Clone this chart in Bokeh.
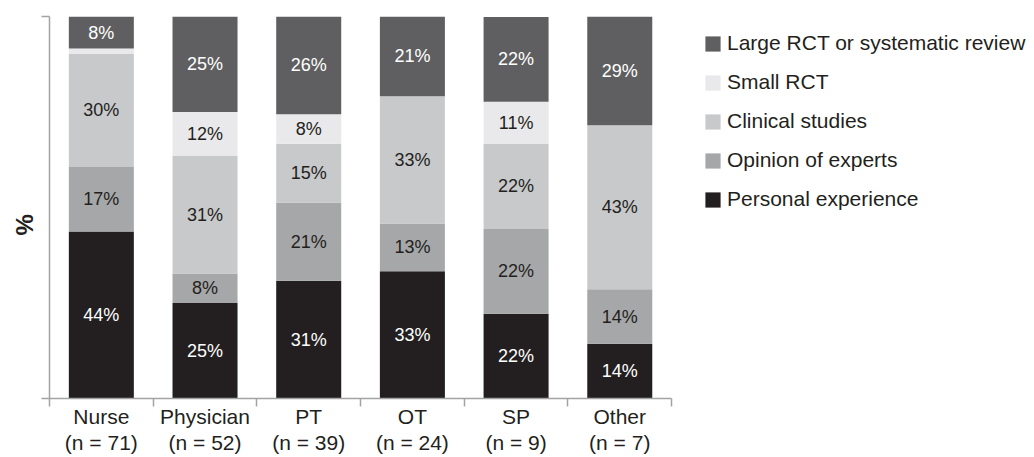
import numpy as np
from bokeh.plotting import figure
from bokeh.models import (ColumnDataSource, FixedTicker, LinearAxis, Legend,
                          LegendItem, Range1d, Title)
from bokeh.core.properties import value
from bokeh.embed import file_html
from bokeh.resources import INLINE

# ---- data (percent of respondents per profession) ----
groups = ["Nurse", "Physician", "PT", "OT", "SP", "Other"]
group_n = ["(n = 71)", "(n = 52)", "(n = 39)", "(n = 24)", "(n = 9)", "(n = 7)"]
series = ["Personal experience", "Opinion of experts", "Clinical studies",
          "Small RCT", "Large RCT or systematic review"]
personal = [43.7, 25.0, 30.8, 33.3, 22.2, 14.3]
opinion = [16.9, 7.7, 20.5, 12.5, 22.2, 14.3]
clinical = [29.6, 30.8, 15.4, 33.3, 22.2, 42.9]
small_rct = [1.4, 11.5, 7.7, 0.0, 11.1, 0.0]
large_rct = [8.4, 25.0, 25.6, 20.9, 22.2, 28.6]
y_ticks = [0, 100]

colors = ["#231f20", "#a6a7a9", "#c8c9cb", "#e9e9eb", "#5f5f61"]
label_colors = ["#ffffff", "#231f20", "#231f20", "#231f20", "#ffffff"]
FONT = "Liberation Sans"
AXIS_COLOR = "#a3a3a3"

values = [personal, opinion, clinical, small_rct, large_rct]
xs = np.arange(len(groups))
n = len(groups)

# the frame continues to the right edge so the legend (inside it) is not clipped;
# the x axis itself is bounded to the categories
p = figure(width=1034, height=457, x_range=Range1d(-0.5, 9.0),
           y_range=Range1d(0, 100), output_backend="svg", toolbar_location=None,
           x_axis_location=None, y_axis_location=None,
           min_border_left=49, min_border_right=0, min_border_top=16,
           min_border_bottom=59)
p.grid.grid_line_color = None
p.outline_line_color = None
p.background_fill_color = "white"
p.border_fill_color = "white"

renderers = {}
bottom = np.zeros(n)
for name, vals, col, lcol in zip(series, values, colors, label_colors):
    vals = np.array(vals, dtype=float)
    top = bottom + vals
    labels = [f"{int(v + 0.5)}%" if v >= 3 else "" for v in vals]
    src = ColumnDataSource(dict(x=xs, bottom=bottom, top=top,
                                mid=(bottom + top) / 2, label=labels))
    r = p.vbar(x="x", bottom="bottom", top="top", width=0.627, source=src,
               fill_color=col, line_color=None)
    p.text(x="x", y="mid", text="label", source=src, text_align="center",
           text_baseline="middle", text_font=value(FONT),
           text_font_size="18px", text_color=lcol)
    renderers[name] = r
    bottom = top

# x axis: two-line group labels, ticks at category boundaries
xaxis = LinearAxis(
    bounds=(-0.5, n - 0.5),
    ticker=FixedTicker(ticks=list(xs), minor_ticks=[i - 0.5 for i in range(n + 1)]),
    major_label_overrides={int(i): f"{g}\n{s}" for i, g, s in zip(xs, groups, group_n)},
    axis_line_color=AXIS_COLOR, axis_line_width=1.5,
    major_tick_line_color=None, major_tick_in=0, major_tick_out=8,
    minor_tick_line_color=AXIS_COLOR, minor_tick_line_width=1.5,
    minor_tick_in=0, minor_tick_out=8,
    major_label_standoff=-2, major_label_text_font=FONT,
    major_label_text_line_height=1.15,
    major_label_text_font_size="21px", major_label_text_color="#231f20")
p.add_layout(xaxis, "below")

yaxis = LinearAxis(
    ticker=FixedTicker(ticks=y_ticks, minor_ticks=[]),
    major_label_overrides={t: "" for t in y_ticks},
    axis_line_color=AXIS_COLOR, axis_line_width=1.5,
    major_tick_line_color=AXIS_COLOR, major_tick_line_width=1.5,
    major_tick_in=0, major_tick_out=8, minor_tick_line_color=None,
    major_label_standoff=0)
p.add_layout(yaxis, "left")

p.add_layout(Title(text="%", align="left", text_font=FONT, text_font_size="24px",
                   text_font_style="bold", text_color="#231f20", standoff=7,
                   offset=163), "left")

legend = Legend(
    items=[LegendItem(label=s, renderers=[renderers[s]]) for s in reversed(series)],
    location=(654, 187), glyph_width=19, glyph_height=19, label_standoff=5,
    spacing=15, padding=0, margin=0, border_line_color=None,
    background_fill_alpha=0, label_text_font=FONT, label_text_font_size="21px",
    label_text_color="#231f20")
p.add_layout(legend)

open("out.html", "w").write(file_html(p, INLINE))
